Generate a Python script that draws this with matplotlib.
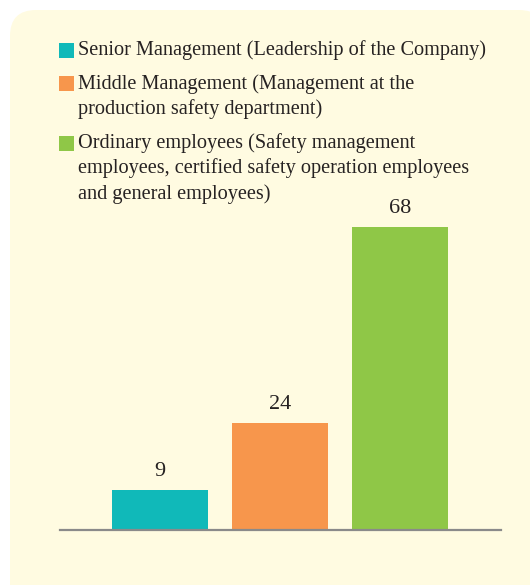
import matplotlib
matplotlib.use("Agg")
import matplotlib.pyplot as plt
from matplotlib.patches import FancyBboxPatch, Rectangle

# headcount by management level
groups = ["Senior Management", "Middle Management", "Ordinary employees"]
values = [9, 24, 68]
colors = ["#10B9B9", "#F7964C", "#8FC747"]

legend_lines = [
	["Senior Management (Leadership of the Company)"],
	["Middle Management (Management at the",
	 "production safety department)"],
	["Ordinary employees (Safety management",
	 "employees, certified safety operation employees",
	 "and general employees)"],
]

W, H = 530, 585
fig = plt.figure(figsize=(W / 100, H / 100), dpi=100)
fig.patch.set_facecolor("white")

# cream panel behind everything, rounded corners
panel = FancyBboxPatch((0.10, -0.4), 5.35, 6.15,
					   boxstyle="round,pad=0,rounding_size=0.26",
					   transform=fig.dpi_scale_trans,
					   facecolor="#FFFBE1", edgecolor="none", zorder=0)
fig.add_artist(panel)

font = ["Liberation Serif", "DejaVu Serif"]
txt_color = "#262222"


def fy(px):
	return 1 - px / H


# legend: colour squares + wrapped labels
sq_top = [43, 76, 136]
first_base = [55, 89, 148]
line_step = 25.3
for i, lines in enumerate(legend_lines):
	fig.add_artist(Rectangle((59 / W, fy(sq_top[i] + 14.5)), 15 / W, 14.5 / H,
							 transform=fig.transFigure,
							 facecolor=colors[i], edgecolor="none"))
	for j, line in enumerate(lines):
		fig.text(78 / W, fy(first_base[i] + j * line_step), line,
				 family=font, fontsize=14.6, color=txt_color, va="baseline")

# bar chart
ax_top, ax_bot = 200, 530
ax = fig.add_axes([60 / W, fy(ax_bot), 441 / W, (ax_bot - ax_top) / H])
ax.set_facecolor("none")
x = range(len(values))
ax.bar(x, values, width=0.8, color=colors, zorder=2)
for xi, v in zip(x, values):
	ax.annotate(str(v), (xi, v), xytext=(0, 10), textcoords="offset points",
				ha="center", va="baseline", family=font, fontsize=16,
				color=txt_color)

ax.set_xlim(-100 / 120, 2 + 101 / 120)
ax.set_ylim(0, (ax_bot - ax_top) / 4.46)
for s in ["top", "left", "right"]:
	ax.spines[s].set_visible(False)
ax.spines["bottom"].set_color("#8A8A8A")
ax.spines["bottom"].set_linewidth(1.6)
ax.set_xticks([])
ax.set_yticks([])

fig.savefig("out.png", dpi=100)
